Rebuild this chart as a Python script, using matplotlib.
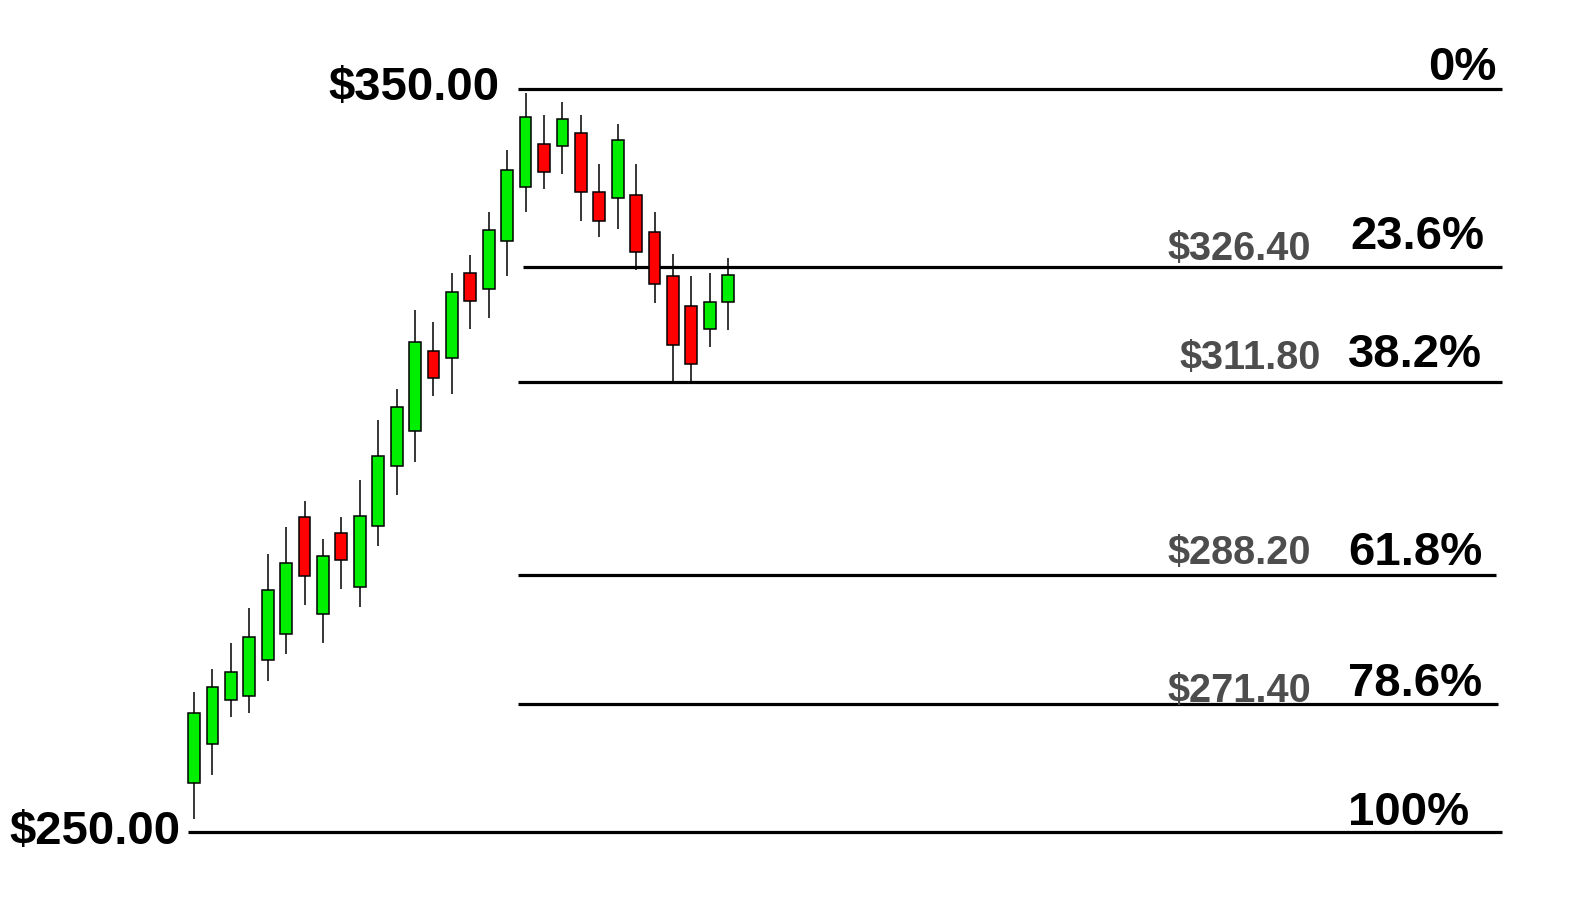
import numpy as np
import matplotlib
matplotlib.use("Agg")
import matplotlib.pyplot as plt

plt.rcParams['font.family'] = ['Liberation Sans', 'DejaVu Sans']

# candles (price units)
opens  = [256.6, 261.8, 267.7, 268.3, 273.1, 276.7, 292.4, 279.4, 290.2, 283.0,
          291.2, 299.3, 304.0, 314.7, 313.8, 325.2, 323.1, 329.6, 336.8, 342.6,
          342.3, 344.1, 336.1, 335.3, 335.8, 330.8, 324.9, 320.8, 317.7, 321.3]
highs  = [268.8, 271.9, 275.4, 280.2, 287.4, 291.0, 294.6, 289.5, 292.4, 297.4,
          305.5, 309.6, 320.2, 318.6, 325.3, 327.7, 333.4, 341.8, 349.5, 346.5,
          348.3, 346.5, 339.9, 345.3, 339.9, 333.4, 327.8, 324.8, 325.2, 327.3]
lows   = [251.8, 257.7, 265.5, 266.0, 270.3, 274.0, 280.5, 275.4, 282.7, 280.3,
          288.5, 295.3, 299.8, 308.7, 309.0, 317.7, 319.2, 324.8, 333.4, 336.5,
          338.6, 332.2, 330.1, 331.2, 325.7, 321.2, 310.6, 310.6, 315.3, 317.5]
closes = [266.0, 269.5, 271.5, 276.2, 282.6, 286.2, 284.5, 287.2, 286.6, 292.5,
          300.6, 307.2, 315.9, 311.1, 322.7, 321.5, 331.0, 339.1, 346.2, 338.8,
          346.0, 336.2, 332.3, 343.1, 328.0, 323.7, 315.6, 313.0, 321.3, 325.0]

# fibonacci levels (positions as drawn in the picture) and their labels
levels = [350.0, 326.1, 310.6, 284.6, 267.2, 250.0]
pct_labels = ["0%", "23.6%", "38.2%", "61.8%", "78.6%", "100%"]
price_labels = ["$350.00", "$326.40", "$311.80", "$288.20", "$271.40", "$250.00"]

W, H = 1584, 915
x0_px, step_px = 194, 18.42     # first candle centre and spacing in pixels
y_top, y_bot = 361.98, 238.83   # price at top / bottom edge of figure

def px(p):
    return (p - x0_px) / step_px

fig = plt.figure(figsize=(W / 100, H / 100), dpi=100)
ax = fig.add_axes([0, 0, 1, 1])
ax.set_xlim(px(0), px(W))
ax.set_ylim(y_bot, y_top)
ax.axis('off')

o = np.array(opens); h = np.array(highs); l = np.array(lows); c = np.array(closes)
x = np.arange(len(o))
up = c >= o
ax.vlines(x, l, h, color='black', lw=1.1, zorder=2)
ax.bar(x, c - o, bottom=o, width=0.64,
       color=np.where(up, '#00ee00', '#ff0000'),
       edgecolor='black', linewidth=1.1, zorder=3)

# horizontal retracement lines
left = [518, 522.5, 518, 518, 518, 188.3]
right = [1502, 1502, 1502, 1496, 1498, 1502]
for lev, a, b in zip(levels, left, right):
    ax.hlines(lev, px(a), px(b), color='black', lw=2.3, zorder=1)

# percentage labels
pct_x = [1428, 1350, 1348, 1348, 1348, 1348]
pct_dy = [9, 18, 15, 10, 8, 7]
for lev, t, xp, dy in zip(levels, pct_labels, pct_x, pct_dy):
    ax.annotate(t, (px(xp), lev), xytext=(0, dy), textcoords='offset pixels',
                ha='left', va='baseline', fontsize=34, fontweight='bold',
                color='black')

# gray price labels for intermediate levels
pr_x = [1311, 1321, 1311, 1311]
pr_dy = [7, 13, 11, 2]
for lev, t, xp, dy in zip(levels[1:5], price_labels[1:5], pr_x, pr_dy):
    ax.annotate(t, (px(xp), lev), xytext=(0, dy), textcoords='offset pixels',
                ha='right', va='baseline', fontsize=28.5, fontweight='bold',
                color='#4d4d4d')

# big top / bottom price labels
ax.annotate(price_labels[0], (px(500), levels[0]), xytext=(0, -11),
            textcoords='offset pixels', ha='right', va='baseline',
            fontsize=34, fontweight='bold', color='black')
ax.annotate(price_labels[-1], (px(181), levels[-1]), xytext=(0, -12),
            textcoords='offset pixels', ha='right', va='baseline',
            fontsize=34, fontweight='bold', color='black')

fig.savefig("out.png", dpi=100, facecolor='white')
